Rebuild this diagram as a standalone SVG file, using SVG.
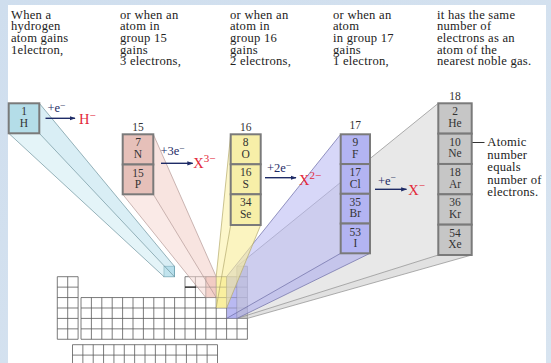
<svg xmlns="http://www.w3.org/2000/svg" width="551" height="363" viewBox="0 0 551 363">
<style>
text{font-family:"Liberation Serif",serif;fill:#222}
.cap{font-size:12.6px;letter-spacing:0.25px}
.num{font-size:11.5px;text-anchor:middle;fill:#333}
.grp{font-size:11.5px;text-anchor:middle;fill:#333}
.eq{font-size:12.5px;fill:#1e2b66}
.esup{font-size:9.5px;fill:#1e2b66}
.ion{font-size:14.5px;fill:#e3283a}
.sup{font-size:11px;fill:#e3283a}
.cell{stroke:#7a7a7a;stroke-width:2}
.grid{fill:none;stroke:#5a5a5a;stroke-width:0.8}
.edge{fill:none;stroke-width:0.7}
.arr{stroke:#1e2b66;stroke-width:1.4;fill:none}
</style>
<defs>
<marker id="ah" viewBox="0 0 10 10" refX="9" refY="5" markerWidth="6" markerHeight="6" orient="auto" markerUnits="userSpaceOnUse">
<path d="M0,1.5 L10,5 L0,8.5 Z" fill="#1e2b66"/>
</marker>
<linearGradient id="bg" x1="0" y1="0" x2="1" y2="1">
<stop offset="0" stop-color="#cfdeee"/><stop offset="1" stop-color="#d8e4f0"/>
</linearGradient>
</defs>
<rect x="0" y="0" width="551" height="363" fill="url(#bg)"/>
<rect x="8" y="5" width="538" height="358" fill="#ffffff"/>

<!-- caption texts -->
<g id="captions" class="cap">
<text x="11" y="18.5">When a</text><text x="11" y="30.2">hydrogen</text><text x="11" y="41.9">atom gains</text><text x="11" y="53.6">1electron,</text>
<text x="120" y="18.5">or when an</text><text x="120" y="30.2">atom in</text><text x="120" y="41.9">group 15</text><text x="120" y="53.6">gains</text><text x="120" y="65.3">3 electrons,</text>
<text x="230" y="18.5">or when an</text><text x="230" y="30.2">atom in</text><text x="230" y="41.9">group 16</text><text x="230" y="53.6">gains</text><text x="230" y="65.3">2 electrons,</text>
<text x="333" y="18.5">or when an</text><text x="333" y="30.2">atom</text><text x="333" y="41.9">in group 17</text><text x="333" y="53.6">gains</text><text x="333" y="65.3">1 electron,</text>
<text x="437" y="18.5">it has the same</text><text x="437" y="30.2">number of</text><text x="437" y="41.9">electrons as an</text><text x="437" y="53.6">atom of the</text><text x="437" y="65.3">nearest noble gas.</text>
</g>

<!-- periodic table -->
<g id="table">
<rect x="164" y="266.3" width="10.4" height="10.4" fill="#a9d8e6" stroke="#4f8a9a" stroke-width="0.9"/>
<rect x="205.8" y="276.7" width="10.4" height="20.86" fill="#f2c9c2"/>
<rect x="216.2" y="276.7" width="10.4" height="31.29" fill="#faf3ad"/>
<rect x="226.6" y="276.7" width="10.4" height="41.72" fill="#bcbcf2"/>
<rect x="237" y="266.27" width="10.4" height="52.15" fill="#c4c4c4"/>
<path class="grid" d="M57.3,276.7h20.8v62.58h-20.8z M67.7,276.7v62.58 M57.3,287.13h20.8 M57.3,297.56h20.8 M57.3,307.99h20.8 M57.3,318.42h20.8 M57.3,328.85h20.8"/>
<path class="grid" d="M81,297.56h104v-20.86h62.4v62.58h-166.4z M237,266.27h10.4v10.43h-10.4z
M91.4,297.56v41.72 M101.8,297.56v41.72 M112.2,297.56v41.72 M122.6,297.56v41.72 M133,297.56v41.72 M143.4,297.56v41.72 M153.8,297.56v41.72 M164.2,297.56v41.72 M174.6,297.56v41.72 M185,297.56v41.72
M195.4,276.7v62.58 M205.8,276.7v62.58 M216.2,276.7v62.58 M226.6,276.7v62.58 M237,276.7v62.58
M185,287.13h62.4 M185,297.56h62.4 M81,307.99h166.4 M81,318.42h166.4 M81,328.85h166.4"/>
<path d="M185,287.13h11" stroke="#222" stroke-width="1.2"/>
<path class="grid" d="M72.5,344.7h145v22h-145z M72.5,355.1h145
M82.86,344.7v22 M93.21,344.7v22 M103.57,344.7v22 M113.93,344.7v22 M124.29,344.7v22 M134.64,344.7v22 M145,344.7v22 M155.36,344.7v22 M165.71,344.7v22 M176.07,344.7v22 M186.43,344.7v22 M196.79,344.7v22 M207.14,344.7v22"/>
</g>

<!-- connectors: projection beams and arrows -->
<g id="connectors">
<g id="beam18">
<polygon points="438.3,103.3 438.3,255 237,318.42 237,266.27" fill="#d6d6d6" fill-opacity="0.55"/>
<polygon points="438.3,255 471.7,255 247.4,318.42 237,318.42" fill="#c8c8c8" fill-opacity="0.55"/>
<path class="edge" stroke="#8c8c8c" d="M438.3,103.3L237,266.27 M438.3,255L237,318.42 M471.7,255L247.4,318.42"/>
</g>
<g id="beam17">
<polygon points="340.7,134.3 340.7,253.3 226.6,318.42 226.6,276.7" fill="#b6b6f2" fill-opacity="0.55"/>
<polygon points="340.7,253.3 370,253.3 237,318.42 226.6,318.42" fill="#a8a8ec" fill-opacity="0.55"/>
<path class="edge" stroke="#6c6ca6" d="M340.7,134.3L226.6,276.7 M340.7,253.3L226.6,318.42 M370,253.3L237,318.42"/>
</g>
<g id="beam16">
<polygon points="230.7,134.3 230.7,225 216.2,307.99 216.2,276.7" fill="#fbf2a8" fill-opacity="0.6"/>
<polygon points="230.7,225 260.7,225 226.6,307.99 216.2,307.99" fill="#f8ec96" fill-opacity="0.6"/>
<path class="edge" stroke="#b4ab6c" d="M230.7,134.3L216.2,276.7 M230.7,225L216.2,307.99 M260.7,225L226.6,307.99"/>
</g>
<g id="beam15">
<polygon points="153.3,134.3 153.3,194.3 216.2,297.56 216.2,276.7" fill="#f3cdc6" fill-opacity="0.55"/>
<polygon points="122.7,194.3 153.3,194.3 216.2,297.56 205.8,297.56" fill="#f5d8d3" fill-opacity="0.55"/>
<path class="edge" stroke="#b49a96" d="M153.3,134.3L216.2,276.7 M153.3,194.3L216.2,297.56 M122.7,194.3L205.8,297.56"/>
</g>
<g id="beamH">
<polygon points="39.3,103.3 39.3,133.3 174.4,276.7 174.4,266.3" fill="#bfe2ee" fill-opacity="0.6"/>
<polygon points="8.7,133.3 39.3,133.3 174.4,276.7 164,276.7" fill="#d2ecf4" fill-opacity="0.6"/>
<path class="edge" stroke="#6f939e" d="M39.3,103.3L174.4,266.3 M39.3,133.3L174.4,276.7 M8.7,133.3L164,276.7"/>
</g>
<g id="arrows">
<line class="arr" x1="45.5" y1="118.3" x2="75" y2="118.3" marker-end="url(#ah)"/>
<line class="arr" x1="161" y1="163.3" x2="192.7" y2="163.3" marker-end="url(#ah)"/>
<line class="arr" x1="265" y1="177.7" x2="296" y2="177.7" marker-end="url(#ah)"/>
<line class="arr" x1="375" y1="189.3" x2="406.5" y2="189.3" marker-end="url(#ah)"/>
<line x1="472" y1="142.5" x2="484.5" y2="142.5" stroke="#333" stroke-width="1"/>
</g>
</g>

<!-- element nodes -->
<g id="node-H">
<rect class="cell" x="8.7" y="103.3" width="30.6" height="30" fill="#b4dde8"/>
<text class="num" x="24" y="115.3">1</text><text class="num" x="24" y="126.8">H</text>
</g>
<g id="node-group15">
<text class="grp" x="138" y="131">15</text>
<rect class="cell" x="122.7" y="134.3" width="30.6" height="30.2" fill="#e6c0b9"/>
<rect class="cell" x="122.7" y="164.5" width="30.6" height="29.8" fill="#e6c0b9"/>
<text class="num" x="138" y="146.3">7</text><text class="num" x="138" y="157.8">N</text>
<text class="num" x="138" y="176.5">15</text><text class="num" x="138" y="188">P</text>
</g>
<g id="node-group16">
<text class="grp" x="245.7" y="131">16</text>
<rect class="cell" x="230.7" y="134.3" width="30" height="30" fill="#f7efa8"/>
<rect class="cell" x="230.7" y="164.3" width="30" height="30" fill="#f7efa8"/>
<rect class="cell" x="230.7" y="194.3" width="30" height="30.7" fill="#f7efa8"/>
<text class="num" x="245.7" y="146.3">8</text><text class="num" x="245.7" y="157.8">O</text>
<text class="num" x="245.7" y="176.3">16</text><text class="num" x="245.7" y="187.8">S</text>
<text class="num" x="245.7" y="206.3">34</text><text class="num" x="245.7" y="217.8">Se</text>
</g>
<g id="node-group17">
<text class="grp" x="355.3" y="128.5">17</text>
<rect class="cell" x="340.7" y="134.3" width="29.3" height="29.75" fill="#b3b4f2"/>
<rect class="cell" x="340.7" y="164.05" width="29.3" height="29.75" fill="#b3b4f2"/>
<rect class="cell" x="340.7" y="193.8" width="29.3" height="29.75" fill="#b3b4f2"/>
<rect class="cell" x="340.7" y="223.55" width="29.3" height="29.75" fill="#b3b4f2"/>
<text class="num" x="355.3" y="146.3">9</text><text class="num" x="355.3" y="157.8">F</text>
<text class="num" x="355.3" y="176">17</text><text class="num" x="355.3" y="187.5">Cl</text>
<text class="num" x="355.3" y="205.8">35</text><text class="num" x="355.3" y="217.3">Br</text>
<text class="num" x="355.3" y="235.5">53</text><text class="num" x="355.3" y="247">I</text>
</g>
<g id="node-group18">
<text class="grp" x="455" y="100">18</text>
<rect class="cell" x="438.3" y="103.3" width="33.4" height="30.34" fill="#c6c6c6"/>
<rect class="cell" x="438.3" y="133.64" width="33.4" height="30.34" fill="#c6c6c6"/>
<rect class="cell" x="438.3" y="163.98" width="33.4" height="30.34" fill="#c6c6c6"/>
<rect class="cell" x="438.3" y="194.32" width="33.4" height="30.34" fill="#c6c6c6"/>
<rect class="cell" x="438.3" y="224.66" width="33.4" height="30.34" fill="#c6c6c6"/>
<text class="num" x="455" y="115.3">2</text><text class="num" x="455" y="126.8">He</text>
<text class="num" x="455" y="145.6">10</text><text class="num" x="455" y="157.1">Ne</text>
<text class="num" x="455" y="176">18</text><text class="num" x="455" y="187.5">Ar</text>
<text class="num" x="455" y="206.3">36</text><text class="num" x="455" y="217.8">Kr</text>
<text class="num" x="455" y="236.6">54</text><text class="num" x="455" y="248.1">Xe</text>
</g>

<!-- equations -->
<g id="labels">
<text class="eq" x="47.5" y="112">+e<tspan class="esup" dy="-3.5">−</tspan></text>
<text class="ion" x="79" y="123.5">H<tspan class="sup" dy="-5">−</tspan></text>
<text class="eq" x="160.5" y="155">+3e<tspan class="esup" dy="-3.5">−</tspan></text>
<text class="ion" x="193.3" y="168">X<tspan class="sup" dy="-6">3−</tspan></text>
<text class="eq" x="267" y="172.3">+2e<tspan class="esup" dy="-3.5">−</tspan></text>
<text class="ion" x="299" y="184.5">X<tspan class="sup" dy="-6">2−</tspan></text>
<text class="eq" x="378" y="184.5">+e<tspan class="esup" dy="-3.5">−</tspan></text>
<text class="ion" x="408.3" y="195">X<tspan class="sup" dy="-6">−</tspan></text>
<g class="cap">
<text x="487.3" y="146">Atomic</text><text x="487.3" y="158.5">number</text><text x="487.3" y="171">equals</text><text x="487.3" y="183.5">number of</text><text x="487.3" y="196">electrons.</text>
</g>
</g>
</svg>
